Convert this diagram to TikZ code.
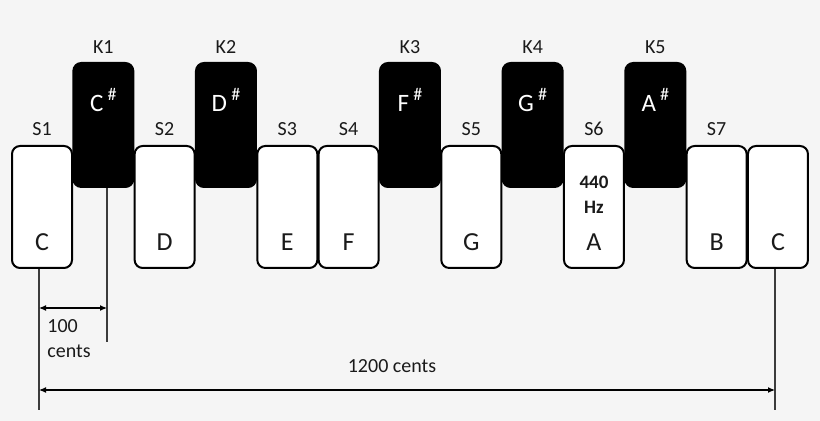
\documentclass[tikz,border=0pt]{standalone}
\usepackage{fontspec}
\setmainfont{Carlito}
\usetikzlibrary{positioning,arrows.meta}
\definecolor{paper}{HTML}{F5F5F5}
\definecolor{ink}{HTML}{1A1A1A}
\definecolor{rule}{HTML}{3C3C3C}
\newcommand{\sharpkey}[1]{#1\,\raisebox{5.5pt}{\fontsize{9}{9}\selectfont\#}}
\tikzset{
  whitekey/.style={draw=black, line width=1pt, fill=white, rounded corners=4pt,
    minimum width=30pt, minimum height=61pt, inner sep=0pt},
  blackkey/.style={draw=black, line width=1pt, fill=black, rounded corners=4pt,
    minimum width=30pt, minimum height=62pt, inner sep=0pt},
  keyname/.style={text=ink, font=\fontsize{10}{12.5}\selectfont, inner sep=0pt},
  note/.style={text=ink, font=\fontsize{13}{15}\selectfont, inner sep=0pt},
  sharpnote/.style={text=white, font=\fontsize{12.5}{15}\selectfont, inner sep=0pt},
  guide/.style={draw=rule, line width=0.6pt},
  span/.style={draw=black, line width=0.6pt,
    {Latex[length=3.5pt,width=3pt]}-{Latex[length=3.5pt,width=3pt]}},
}

\begin{document}
\begin{tikzpicture}[x=0.5pt, y=-0.5pt]
  \fill[paper] (0,0) rectangle (820,421);
  \useasboundingbox (0,0) rectangle (820,421);

  % white keys
  \foreach \col/\tone/\n in {0/C/1, 2/D/2, 4/E/3, 5/F/4, 7/G/5, 9/A/6, 11/B/7} {
    \node[whitekey] (s\n) at ({42+61.33*\col},207) {};
    \node[keyname, above=4.5pt of s\n] {S\n};
    \node[note, anchor=base] (n\n) at ([yshift=9pt]s\n.south) {\tone};
  }
  \node[whitekey] (s8) at ({42+61.33*12},207) {};
  \node[note, anchor=base] (n8) at ([yshift=9pt]s8.south) {C};
  \node[keyname, font=\bfseries\fontsize{9.5}{12.5}\selectfont, align=center,
    above=10pt of n6] (hz) {440\\Hz};

  % black keys
  \foreach \col/\tone/\n in {1/C/1, 3/D/2, 6/F/3, 8/G/4, 10/A/5} {
    \node[blackkey] (k\n) at ({42+61.33*\col},125) {};
    \node[keyname, above=4pt of k\n] {K\n};
    \node[sharpnote, anchor=base] (b\n) at ([yshift=-25pt]k\n.north) {\sharpkey{\tone}};
  }

  % measures
  \coordinate (m0) at (39,410);
  \coordinate (m1) at (107,342);
  \coordinate (m12) at (775,410);
  \draw[guide] (m0 |- s1.south) -- (m0);
  \draw[guide] (m1 |- k1.south) -- (m1);
  \draw[guide] (m12 |- s8.south) -- (m12);

  \coordinate (h0) at (39,308);
  \coordinate (h1) at (107,308);
  \draw[span] (h0) -- (h1);
  \node[keyname, align=left, below right=5.5pt and 4pt of h0] (small) {100\\cents};

  \coordinate (g0) at (39,390);
  \coordinate (g12) at (775,390);
  \draw[span] (g0) -- (g12);
  \node[keyname, anchor=base] (octave) at (392,373) {1200 cents};
\end{tikzpicture}
\end{document}
